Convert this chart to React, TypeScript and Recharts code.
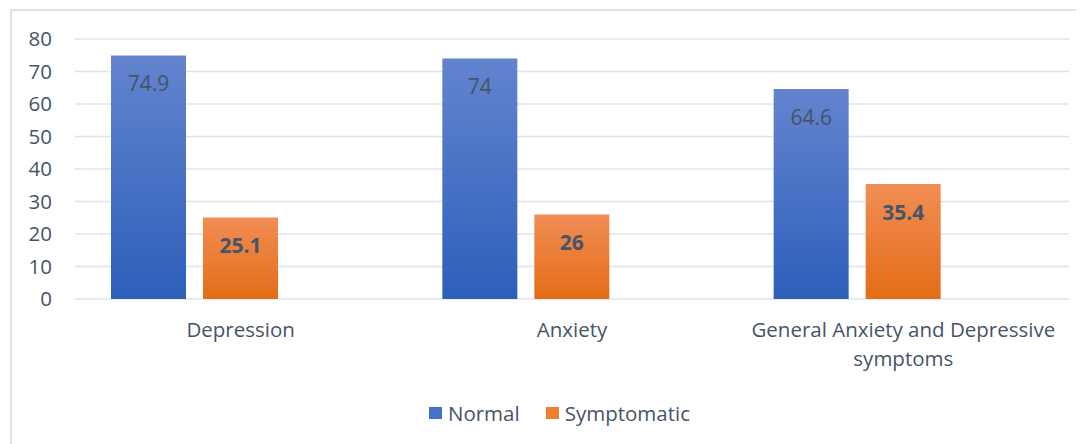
import React from "react";
import { BarChart, Bar, XAxis, YAxis, CartesianGrid, Legend, LabelList } from "recharts";

const categories = ["Depression", "Anxiety", "General Anxiety and Depressive symptoms"];
const normalValues = [74.9, 74, 64.6];
const symptomaticValues = [25.1, 26, 35.4];
const yTicks = [0, 10, 20, 30, 40, 50, 60, 70, 80];

const data = categories.map((c, i) => ({
  name: c,
  Normal: normalValues[i],
  Symptomatic: symptomaticValues[i],
  blank: null as number | null,
}));

const FONT = "'Open Sans', 'Noto Sans', sans-serif";
const TEXT = "#465467";

const wrapWords = (s: string, maxChars: number) => {
  const words = s.split(" ");
  const lines: string[] = [];
  let cur = "";
  for (const w of words) {
    const next = cur ? cur + " " + w : w;
    if (next.length > maxChars && cur) {
      lines.push(cur);
      cur = w;
    } else {
      cur = next;
    }
  }
  if (cur) lines.push(cur);
  return lines;
};

const CatTick = (props: any) => {
  const { x, y, payload } = props;
  const lines = wrapWords(String(payload.value), 31);
  return (
    <text x={x} y={y + 38} textAnchor="middle" fontSize={20.5} fill={TEXT} fontFamily={FONT}>
      {lines.map((l, i) => (
        <tspan key={i} x={x} dy={i === 0 ? 0 : 29}>
          {l}
        </tspan>
      ))}
    </text>
  );
};

const legendColors: Record<string, string> = {
  Normal: "#4472c4",
  Symptomatic: "#ed7d31",
};

const LegendContent = (props: any) => {
  const items = (props.payload || []).filter((p: any) => p.type !== "none");
  return (
    <div
      style={{
        display: "flex",
        justifyContent: "center",
        alignItems: "center",
        height: 36,
        gap: 26,
        paddingLeft: 42,
        fontFamily: FONT,
        fontSize: 20.5,
        color: TEXT,
      }}
    >
      {items.map((p: any) => (
        <div key={p.value} style={{ display: "flex", alignItems: "center" }}>
          <span
            style={{
              display: "inline-block",
              width: 13,
              height: 12,
              background: legendColors[p.value],
              marginRight: 6,
            }}
          />
          <span>{p.value}</span>
        </div>
      ))}
    </div>
  );
};

export default function App() {
  return (
    <div style={{ position: "relative", width: 1076, height: 436, overflow: "hidden", fontFamily: FONT }}>
      <div
        style={{
          position: "absolute",
          left: 2,
          top: 1,
          width: 2000,
          height: 2000,
          border: "2px solid #dee2e9",
        }}
      />
      <div style={{ position: "absolute", left: 0, top: 0 }}>
        <BarChart
          width={1076}
          height={436}
          data={data}
          margin={{ top: 31, right: 15, left: 0, bottom: 13 }}
          barGap={17}
          barSize={75}
        >
          <defs>
            <linearGradient id="gBlue" x1="0" y1="0" x2="0" y2="1">
              <stop offset="0%" stopColor="#6384cf" />
              <stop offset="100%" stopColor="#2d5fba" />
            </linearGradient>
            <linearGradient id="gOrange" x1="0" y1="0" x2="0" y2="1">
              <stop offset="0%" stopColor="#f18d55" />
              <stop offset="100%" stopColor="#e46c17" />
            </linearGradient>
          </defs>
          <CartesianGrid vertical={false} stroke="#e0e4ea" strokeWidth={1.5} />
          <XAxis
            dataKey="name"
            axisLine={false}
            tickLine={false}
            tickSize={0}
            tickMargin={0}
            height={96}
            interval={0}
            tick={<CatTick />}
          />
          <YAxis
            width={67}
            domain={[0, 80]}
            ticks={yTicks}
            axisLine={false}
            tickLine={false}
            tickSize={0}
            tickMargin={23}
            tick={{ fill: TEXT, fontSize: 20.5, fontFamily: FONT }}
          />
          <Legend verticalAlign="bottom" height={36} content={<LegendContent />} />
          <Bar dataKey="Normal" fill="url(#gBlue)" isAnimationActive={false}>
            <LabelList
              dataKey="Normal"
              position="insideTop"
              offset={21}
              fill={TEXT}
              fontSize={21}
              fontFamily={FONT}
            />
          </Bar>
          <Bar dataKey="Symptomatic" fill="url(#gOrange)" isAnimationActive={false}>
            <LabelList
              dataKey="Symptomatic"
              position="insideTop"
              offset={21}
              fill={TEXT}
              fontSize={21}
              fontWeight="bold"
              fontFamily={FONT}
            />
          </Bar>
          <Bar dataKey="blank" fill="none" legendType="none" isAnimationActive={false} />
        </BarChart>
      </div>
    </div>
  );
}
